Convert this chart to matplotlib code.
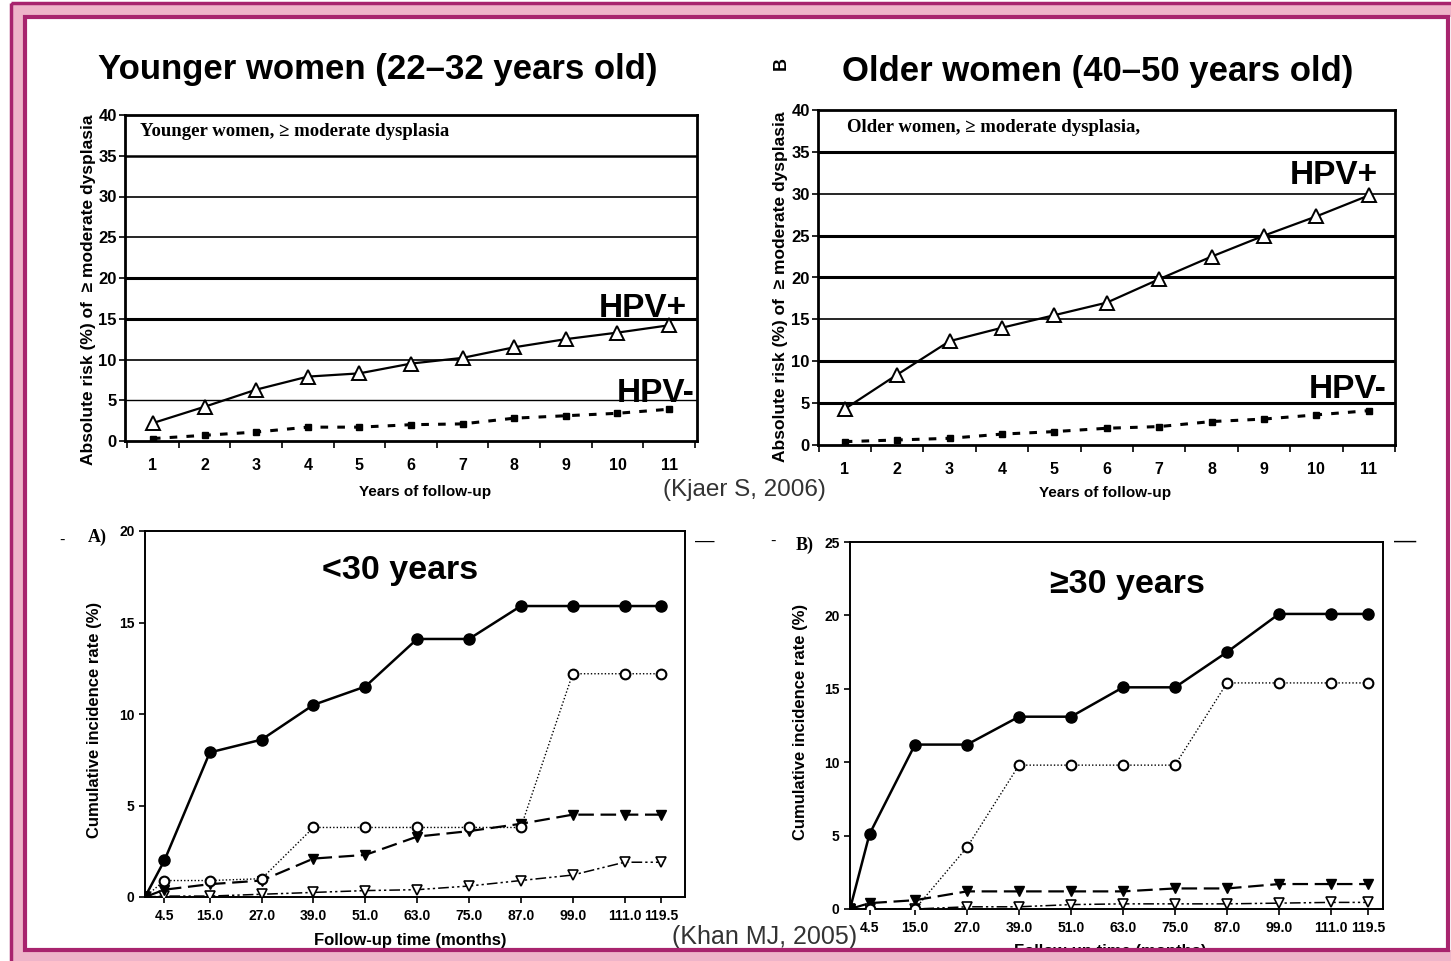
import matplotlib
matplotlib.use("Agg")
import matplotlib.pyplot as plt
from matplotlib.patches import Rectangle

W, H = 1451, 961

# --- Kjaer 2006: absolute risk (%) of >= moderate dysplasia ---
years = [1, 2, 3, 4, 5, 6, 7, 8, 9, 10, 11]
young_hpv_pos = [2.2, 4.2, 6.3, 7.9, 8.3, 9.5, 10.2, 11.5, 12.5, 13.3, 14.2]
young_hpv_neg = [0.3, 0.7, 1.1, 1.7, 1.7, 2.0, 2.1, 2.8, 3.1, 3.4, 3.9]
old_hpv_pos = [4.3, 8.4, 12.4, 14.0, 15.5, 17.0, 19.8, 22.5, 25.0, 27.3, 29.8]
old_hpv_neg = [0.4, 0.6, 0.8, 1.3, 1.6, 2.0, 2.2, 2.8, 3.1, 3.6, 4.1]

# --- Khan 2005: cumulative incidence rate (%) ---
months = [0, 4.5, 15.0, 27.0, 39.0, 51.0, 63.0, 75.0, 87.0, 99.0, 111.0, 119.5]
month_labels = ["4.5", "15.0", "27.0", "39.0", "51.0", "63.0", "75.0", "87.0", "99.0", "111.0", "119.5"]
a_filled_circle = [0, 2.0, 7.9, 8.6, 10.5, 11.5, 14.1, 14.1, 15.9, 15.9, 15.9, 15.9]
a_open_circle = [0, 0.9, 0.9, 1.0, 3.8, 3.8, 3.8, 3.8, 3.8, 12.2, 12.2, 12.2]
a_filled_tri = [0, 0.4, 0.7, 0.9, 2.1, 2.3, 3.3, 3.6, 4.0, 4.5, 4.5, 4.5]
a_open_tri = [0, 0.05, 0.05, 0.15, 0.25, 0.35, 0.4, 0.6, 0.9, 1.2, 1.9, 1.9]
b_filled_circle = [0, 5.1, 11.2, 11.2, 13.1, 13.1, 15.1, 15.1, 17.5, 20.1, 20.1, 20.1]
b_open_circle = [0, 0, 0, 4.2, 9.8, 9.8, 9.8, 9.8, 15.4, 15.4, 15.4, 15.4]
b_filled_tri = [0, 0.4, 0.6, 1.2, 1.2, 1.2, 1.2, 1.4, 1.4, 1.7, 1.7, 1.7]
b_open_tri = [0, 0, 0, 0.15, 0.15, 0.3, 0.35, 0.35, 0.35, 0.4, 0.45, 0.45]

SANS = "Liberation Sans"
NARROW = ["Liberation Sans Narrow", "Liberation Sans"]
SERIF = "Liberation Serif"
plt.rcParams["font.family"] = [SANS, "DejaVu Sans"]

fig = plt.figure(figsize=(W / 100, H / 100), dpi=100)
fig.patch.set_facecolor("white")


def px_axes(left, top, right, bottom):
    return fig.add_axes([left / W, 1 - bottom / H, (right - left) / W, (bottom - top) / H])


def ftext(x, y, s, **kw):
    return fig.text(x / W, 1 - y / H, s, **kw)


def kjaer_panel(ax, pos, neg, xlim, grid_lw):
    for lvl, lw in zip(range(5, 40, 5), grid_lw):
        ax.axhline(lvl, color="black", lw=lw, zorder=1)
    ax.plot(years, pos, color="black", lw=1.6, marker="^", ms=10,
            mfc="white", mec="black", mew=1.4, zorder=3)
    ax.plot(years, neg, color="black", lw=2.2, ls=(0, (2.5, 3)), marker="s", ms=4.5,
            mfc="black", mec="black", zorder=3)
    ax.set_xlim(*xlim)
    ax.set_ylim(0, 40)
    ax.set_yticks(range(0, 41, 5))
    ax.set_xticks(years)
    ax.set_xticks([x + 0.5 for x in range(0, 12)], minor=True)
    ax.tick_params(axis="x", which="major", length=0, pad=12, labelsize=11.5)
    ax.tick_params(axis="x", which="minor", length=5, width=1.2, direction="out")
    ax.tick_params(axis="y", length=4, width=1.2, direction="out", pad=2, labelsize=12)
    for lab in ax.get_xticklabels() + ax.get_yticklabels():
        lab.set_fontweight("bold")
        lab.set_family(NARROW)
    for sp in ax.spines.values():
        sp.set_linewidth(2)


def khan_panel(ax, series, xmax, ymax, yticks):
    fc, oc, ft, ot = series
    ax.plot(months, ot, color="black", lw=1.1, ls=(0, (7, 2, 1.5, 2, 1.5, 2)), marker="v", ms=7,
            mfc="white", mec="black", mew=1.2, zorder=3)
    ax.plot(months, ft, color="black", lw=1.6, ls=(0, (7, 3)), marker="v", ms=7,
            mfc="black", mec="black", zorder=3)
    ax.plot(months, oc, color="black", lw=1.0, ls=(0, (1, 1.5)), marker="o", ms=7,
            mfc="white", mec="black", mew=1.5, zorder=4)
    ax.plot(months, fc, color="black", lw=1.8, marker="o", ms=8,
            mfc="black", mec="black", zorder=5)
    ax.set_xlim(0, xmax)
    ax.set_ylim(0, ymax)
    ax.set_yticks(yticks)
    ax.set_xticks(months[1:])
    ax.set_xticklabels(month_labels)
    ax.tick_params(axis="both", length=4, width=1.2, direction="out", labelsize=10)
    ax.tick_params(axis="x", pad=5)
    for lab in ax.get_xticklabels() + ax.get_yticklabels():
        lab.set_fontweight("bold")
        lab.set_family(NARROW)
    for sp in ax.spines.values():
        sp.set_linewidth(1.4)


# ---------------- top left ----------------
ax1 = px_axes(125, 115, 697, 441)
kjaer_panel(ax1, young_hpv_pos, young_hpv_neg, (0.46, 11.54), [1, 1.2, 2.2, 2.2, 1.2, 1.2, 1.8])
ftext(378, 70, "Younger women (22\u201332 years old)", ha="center", va="center",
      fontsize=25, fontweight="bold")
ftext(140, 131, "Younger women, \u2265 moderate dysplasia", ha="left", va="center",
      fontsize=13.5, fontweight="bold", family=SERIF)
ftext(89, 290, "Absolute risk (%) of  \u2265 moderate dysplasia", rotation=90, ha="center",
      va="center", fontsize=12.5, fontweight="bold", family=NARROW)
ftext(425, 492, "Years of follow-up", ha="center", va="center", fontsize=11,
      fontweight="bold", family=NARROW)
ftext(643, 308, "HPV+", ha="center", va="center", fontsize=24, fontweight="bold")
ftext(656, 393, "HPV-", ha="center", va="center", fontsize=24, fontweight="bold")

# ---------------- top right ----------------
ax2 = px_axes(818, 110, 1395, 445)
kjaer_panel(ax2, old_hpv_pos, old_hpv_neg, (0.49, 11.4), [2.2, 2.2, 1.2, 2.2, 2.2, 1.2, 2.2])
ftext(1098, 72, "Older women (40\u201350 years old)", ha="center", va="center",
      fontsize=25, fontweight="bold")
ftext(847, 127, "Older women, \u2265 moderate dysplasia,", ha="left", va="center",
      fontsize=13.5, fontweight="bold", family=SERIF)
ftext(781, 287, "Absolute risk (%) of  \u2265 moderate dysplasia", rotation=90, ha="center",
      va="center", fontsize=12.5, fontweight="bold", family=NARROW)
ftext(781, 64, "B", rotation=90, ha="center", va="center", fontsize=13, fontweight="bold")
ftext(1105, 493, "Years of follow-up", ha="center", va="center", fontsize=11,
      fontweight="bold", family=NARROW)
ftext(1334, 176, "HPV+", ha="center", va="center", fontsize=24, fontweight="bold")
ftext(1348, 389, "HPV-", ha="center", va="center", fontsize=24, fontweight="bold")

ftext(744, 490, "(Kjaer S, 2006)", ha="center", va="center", fontsize=17.5, color="#333333")

# ---------------- bottom left ----------------
ax3 = px_axes(145, 531, 685, 897)
khan_panel(ax3, (a_filled_circle, a_open_circle, a_filled_tri, a_open_tri), 125, 20, [0, 5, 10, 15, 20])
ftext(400, 570, "<30 years", ha="center", va="center", fontsize=24.5, fontweight="bold")
ftext(97, 537, "A)", ha="center", va="center", fontsize=13, fontweight="bold", family=SERIF)
ftext(95, 720, "Cumulative incidence rate (%)", rotation=90, ha="center", va="center",
      fontsize=12, fontweight="bold", family=NARROW)
ftext(410, 941, "Follow-up time (months)", ha="center", va="center", fontsize=12,
      fontweight="bold", family=NARROW)
ftext(62, 540, "-", ha="center", va="center", fontsize=12)
ftext(705, 541, "\u2014", ha="center", va="center", fontsize=14)

# ---------------- bottom right ----------------
ax4 = px_axes(850, 542, 1383, 909)
khan_panel(ax4, (b_filled_circle, b_open_circle, b_filled_tri, b_open_tri), 123, 25, [0, 5, 10, 15, 20, 25])
ftext(1127, 585, "\u226530 years", ha="center", va="center", fontsize=24.5, fontweight="bold")
ftext(805, 545, "B)", ha="center", va="center", fontsize=13, fontweight="bold", family=SERIF)
ftext(800, 722, "Cumulative incidence rate (%)", rotation=90, ha="center", va="center",
      fontsize=12, fontweight="bold", family=NARROW)
ftext(1110, 944, "Follow-up time (months)", ha="center", va="top", fontsize=12,
      fontweight="bold", family=NARROW)
ftext(773, 541, "-", ha="center", va="center", fontsize=12)
ftext(1405, 541, "\u2014", ha="center", va="center", fontsize=16)

ftext(765, 937, "(Khan MJ, 2005)", ha="center", va="center", fontsize=18, color="#333333")

# ---------------- pink frame (overlay) ----------------
ov = fig.add_axes([0, 0, 1, 1], zorder=10)
ov.set_xlim(0, W)
ov.set_ylim(H, 0)
ov.axis("off")
ov.patch.set_alpha(0)
dark = "#A8246E"
pink = "#EEB4C9"
ov.add_patch(Rectangle((0, 0), W, 3, color="white", lw=0))
ov.add_patch(Rectangle((0, 0), 11, H, color="white", lw=0))
ov.add_patch(Rectangle((11, 3), W, 14, color=pink, lw=0))
ov.add_patch(Rectangle((11, 3), 14, H, color=pink, lw=0))
ov.add_patch(Rectangle((11, 950), W, 12, color=pink, lw=0))
ov.add_patch(Rectangle((1448, 17), 4, 933, color="white", lw=0))
ov.add_patch(Rectangle((11, 3), W + 10, H + 10, fill=False, ec=dark, lw=2.5))
ov.add_patch(Rectangle((25, 17), 1423, 933, fill=False, ec=dark, lw=3))

fig.savefig("out.png", dpi=100)
